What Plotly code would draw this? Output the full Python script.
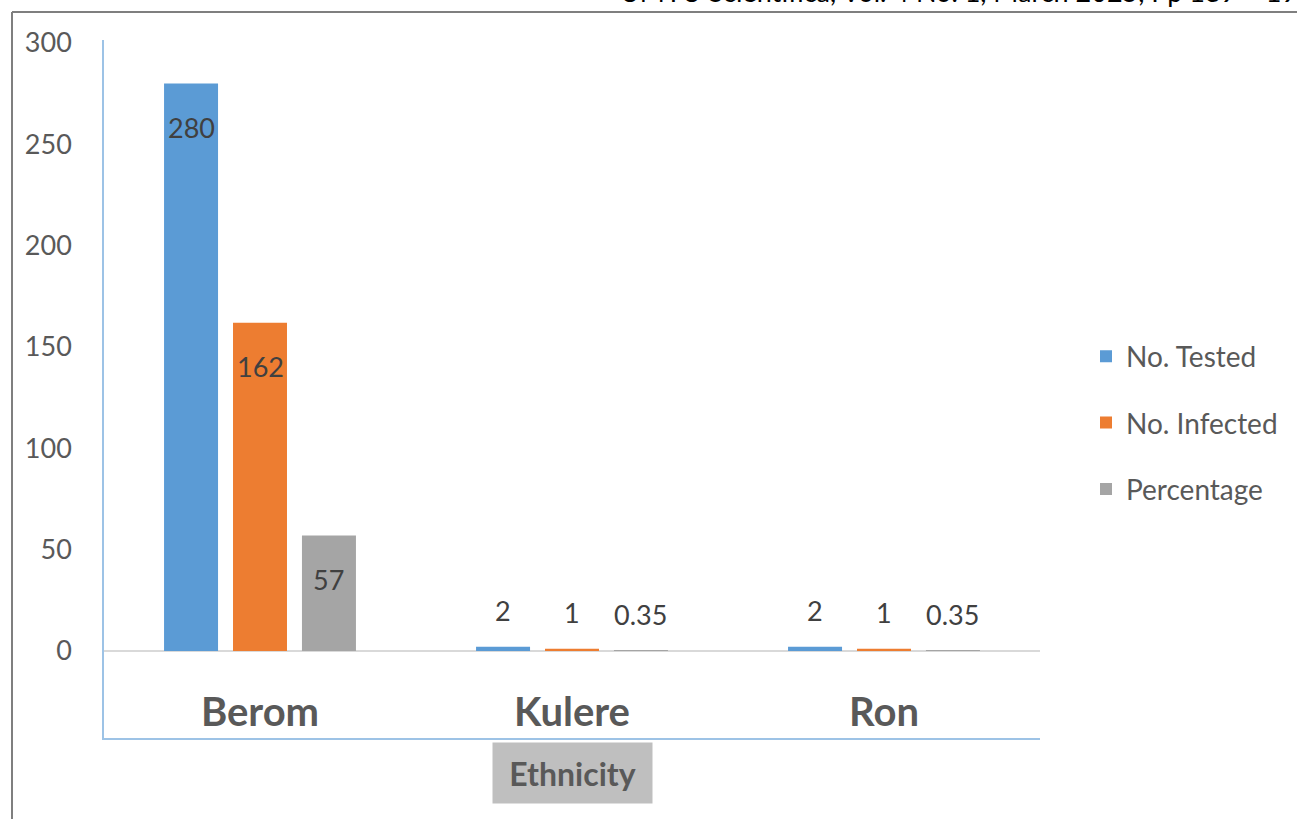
import plotly.graph_objects as go

categories = ["Berom", "Kulere", "Ron"]
tested = [280, 2, 2]
infected = [162, 1, 1]
percentage = [57, 0.35, 0.35]
series_names = ["No. Tested", "No. Infected", "Percentage"]
colors = ["#5b9bd5", "#ed7d31", "#a5a5a5"]
y_ticks = [0, 50, 100, 150, 200, 250, 300]

FONT = "Lato"
W, H = 1297, 819
L, R, T, B = 104, 257, 40, 81
pw, ph = W - L - R, H - T - B
BARGAP, BARGROUPGAP = 0.337, 0.217


def px(x):
    return (x - L) / pw


def py(y):
    return (H - B - y) / ph


fig = go.Figure()
all_series = [tested, infected, percentage]
for name, vals, col in zip(series_names, all_series, colors):
    fig.add_trace(go.Bar(
        x=categories, y=vals, name=name, marker=dict(color=col, line=dict(width=0)),
        legendgroup=name, hoverinfo="x+y+name",
    ))

# data labels (Excel style: inside-end for tall bars, outside-end for short ones)
slot_px = pw / len(categories) * (1 - BARGAP) / len(all_series)
for i, vals in enumerate(all_series):
    for cat, v in zip(categories, vals):
        inside = v > 20
        fig.add_annotation(
            x=cat, y=v, text="%g" % v, showarrow=False,
            xshift=(i - 1) * slot_px, yshift=-44 if inside else 36,
            yanchor="middle", xanchor="center",
            font=dict(family=FONT, size=27, color="#404040"),
        )

fig.update_layout(
    width=W, height=H,
    margin=dict(l=L, r=R, t=T, b=B),
    plot_bgcolor="white", paper_bgcolor="white",
    barmode="group", bargap=BARGAP, bargroupgap=BARGROUPGAP,
    font=dict(family=FONT, color="#595959"),
    showlegend=True,
    legend=dict(x=px(1086), y=py(423), xanchor="left", yanchor="middle",
                font=dict(family=FONT, size=28, color="#595959"),
                tracegroupgap=27, traceorder="grouped", itemwidth=30),
)
fig.update_yaxes(range=[-43, 301.5], tickvals=y_ticks, showgrid=False,
                 zeroline=True, zerolinecolor="#d9d9d9", zerolinewidth=1.5,
                 showline=True, linecolor="#9dc3e6", linewidth=1.5,
                 tickfont=dict(family=FONT, size=27, color="#595959"),
                 ticks="", ticklabelstandoff=25)
fig.update_xaxes(showgrid=False, showline=True, linecolor="#9dc3e6", linewidth=2,
                 ticks="", ticklabelposition="inside",
                 tickfont=dict(family=FONT, size=40, color="#595959", weight="bold"),
                 ticklabelstandoff=9)

# Axis title in a gray box
fig.add_annotation(text="Ethnicity", xref="paper", yref="paper", x=px(572), y=py(773),
                   xanchor="center", yanchor="middle",
                   showarrow=False, font=dict(family=FONT, size=32, color="#595959", weight="bold"),
                   bgcolor="#bfbfbf", width=155, height=56, borderpad=2)

# page frame
fig.add_shape(type="line", xref="paper", yref="paper", x0=px(12), x1=px(1300), y0=py(12), y1=py(12),
              line=dict(color="#7f7f7f", width=2))
fig.add_shape(type="line", xref="paper", yref="paper", x0=px(12), x1=px(12), y0=py(12), y1=py(822),
              line=dict(color="#7f7f7f", width=2))
# page header (cut off at the top edge)
fig.add_annotation(text="UMYU Scientifica, Vol. 4 No. 1, March 2025, Pp 189 – 195", xref="paper", yref="paper",
                   x=px(618), y=py(-9), xanchor="left", yanchor="middle", showarrow=False,
                   font=dict(family=FONT, size=27, color="#000000"))

fig.write_html("out.html", config={"displayModeBar": False},
               post_script="document.body.style.margin='0';document.body.style.overflow='hidden';")
